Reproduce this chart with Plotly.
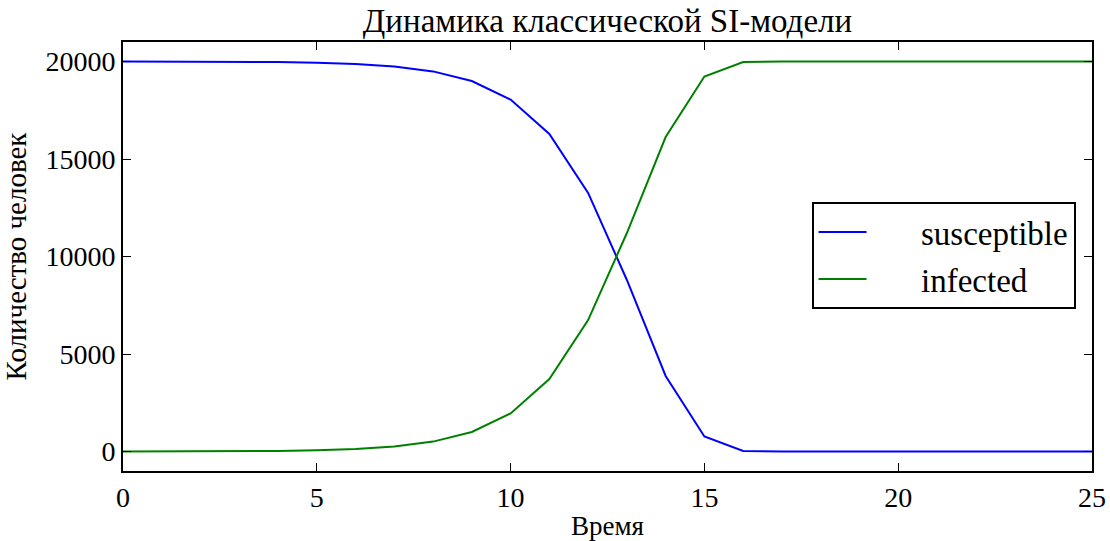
import plotly.graph_objects as go

time = list(range(26))
susceptible = [19998, 19996, 19992, 19984, 19968, 19936, 19872, 19745, 19493, 18999,
               18048, 16287, 13263, 8795, 3873, 773, 30, 0, 0, 0, 0, 0, 0, 0, 0, 0]
infected = [2, 4, 8, 16, 32, 64, 128, 255, 507, 1001,
            1952, 3713, 6737, 11205, 16127, 19227, 19970, 20000, 20000, 20000,
            20000, 20000, 20000, 20000, 20000, 20000]

title_text = "Динамика классической SI-модели"
x_label = "Время"
y_label = "Количество человек"
series_names = ["susceptible", "infected"]
x_ticks = [0, 5, 10, 15, 20, 25]
y_ticks = [0, 5000, 10000, 15000, 20000]

FONT = "Liberation Serif"
GAP = "\u00a0" * 6

fig = go.Figure()
fig.add_trace(go.Scatter(x=time, y=susceptible, mode="lines", name=GAP + series_names[0],
                         line=dict(color="#0000ff", width=2), legendgroup="s"))
fig.add_trace(go.Scatter(x=time, y=infected, mode="lines", name=GAP + series_names[1],
                         line=dict(color="#008000", width=2), legendgroup="i"))

axis_common = dict(showgrid=False, zeroline=False, showline=True, linecolor="black",
                   linewidth=2, mirror="ticks", ticks="inside", ticklen=8, tickwidth=1,
                   tickcolor="black", automargin=False,
                   tickfont=dict(family=FONT, size=28, color="black"))

fig.update_xaxes(range=[0, 25], tickvals=x_ticks, ticktext=[str(v) for v in x_ticks],
                 title=dict(text=x_label, font=dict(family=FONT, size=27, color="black"), standoff=5),
                 **axis_common)
fig.update_yaxes(range=[-1000, 21000], tickvals=y_ticks, ticktext=[str(v) for v in y_ticks],
                 title=dict(text=y_label, font=dict(family=FONT, size=29, color="black"), standoff=10),
                 **axis_common)

fig.update_layout(
    width=1110, height=541,
    margin=dict(l=123, r=18, t=42, b=70),
    paper_bgcolor="white", plot_bgcolor="white",
    title=dict(text=title_text, x=0.5, xref="paper", xanchor="center",
               y=1, yref="paper", yanchor="bottom", pad=dict(b=10),
               font=dict(family=FONT, size=33, color="black")),
    legend=dict(x=0.983, y=0.502, xanchor="right", yanchor="middle",
                bordercolor="black", borderwidth=2, bgcolor="white",
                font=dict(family=FONT, size=33, color="black"),
                tracegroupgap=1, itemwidth=48),
    showlegend=True,
)

fig.write_html("out.html")
